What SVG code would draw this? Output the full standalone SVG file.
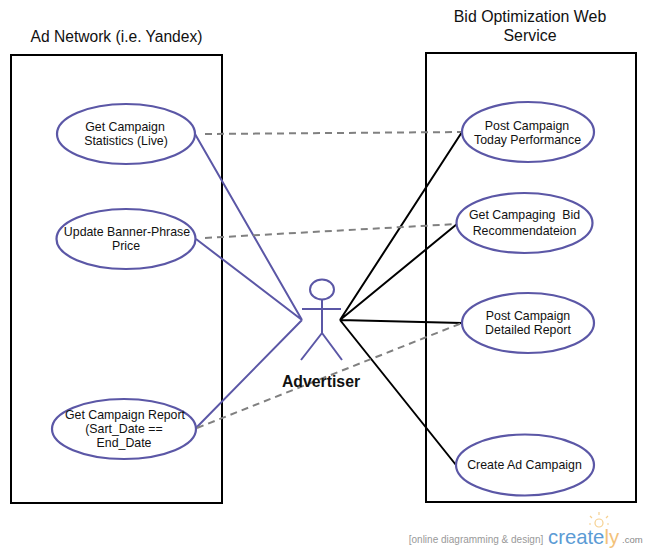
<svg xmlns="http://www.w3.org/2000/svg" width="647" height="554" viewBox="0 0 647 554">
<style>
text{font-family:"Liberation Sans",Arial,sans-serif;text-anchor:middle;fill:#111;white-space:pre}
.t{font-size:12.35px}
.h{font-size:15.6px}
.uc{fill:#fff;stroke:#5b57a6;stroke-width:2.2}
.sys{fill:#fff;stroke:#000;stroke-width:2}
.p{stroke:#5b57a6;stroke-width:2;fill:none}
.k{stroke:#000;stroke-width:2;fill:none}
.d{stroke:#808080;stroke-width:2;fill:none;stroke-dasharray:7 5}
.b{stroke:#f6d08f;stroke-width:1.200;fill:none}
</style>
<rect width="647" height="554" fill="#fff"/>
<g id="system-ad-network"><rect class="sys" x="11" y="55" width="211" height="448"/><text class="h" x="116.500" y="42">Ad Network (i.e. Yandex)</text></g>
<g id="system-bid"><rect class="sys" x="426" y="53" width="210" height="449"/><text class="h" x="530" y="22" style="font-size:15.900px">Bid Optimization Web</text><text class="h" x="530" y="41" style="font-size:15.900px">Service</text></g>
<g id="connectors">
<path class="p" d="M195 134L302 320M196 239L302 320M196 428L302 320"/>
<path class="k" d="M340 320L462 132M340 320L457 224M340 320L462 323M340 320L456 465"/>
<path class="d" d="M205 134L462 132M205 238L457 224M197 428L462 323"/>
</g>
<g id="uc1"><ellipse class="uc" cx="126" cy="134" rx="69" ry="30"/><text class="t" x="125" y="131">Get Campaign</text><text class="t" x="126" y="145">Statistics (Live)</text></g>
<g id="uc2"><ellipse class="uc" cx="126" cy="239" rx="69.500" ry="30"/><text class="t" x="127" y="236">Update Banner-Phrase</text><text class="t" x="126" y="250">Price</text></g>
<g id="uc3"><ellipse class="uc" cx="124" cy="429" rx="72" ry="30"/><text class="t" x="125" y="419">Get Campaign Report</text><text class="t" x="124" y="433">(Sart_Date ==</text><text class="t" x="124" y="447">End_Date</text></g>
<g id="uc4"><ellipse class="uc" cx="528" cy="132" rx="66" ry="30"/><text class="t" x="527" y="130">Post Campaign</text><text class="t" x="527.500" y="144">Today Performance</text></g>
<g id="uc5"><ellipse class="uc" cx="524.500" cy="223" rx="68" ry="30"/><text class="t" x="524.500" y="219">Get Campaging  Bid</text><text class="t" x="524.500" y="235">Recommendateion</text></g>
<g id="uc6"><ellipse class="uc" cx="528" cy="323" rx="66" ry="30"/><text class="t" x="528" y="320">Post Campaign</text><text class="t" x="528" y="334">Detailed Report</text></g>
<g id="uc7"><ellipse class="uc" cx="525" cy="465" rx="69" ry="30.500"/><text class="t" x="524.500" y="469">Create Ad Campaign</text></g>
<g id="actor"><ellipse class="p" cx="322" cy="289.500" rx="12" ry="10"/><path class="p" d="M322 300V333M302 309H341M322 333L301 360M322 333L342 360"/><text x="321" y="387" style="font-size:15.800px;font-weight:bold">Advertiser</text></g>
<g id="watermark"><text x="476" y="543" style="font-size:10px;fill:#999">[online diagramming &amp; design]</text><text x="548" y="544" style="font-size:20.300px;fill:#5b9bd5;text-anchor:start">create<tspan fill="#f3c27a">ly</tspan></text><text x="622" y="543" style="font-size:9.500px;fill:#888;text-anchor:start">.com</text>
<circle class="b" cx="599" cy="523" r="4"/><path class="b" d="M599 515V512M592 518L590 516M606 518L608 516M591 524H589M607 524H609"/></g>
</svg>
